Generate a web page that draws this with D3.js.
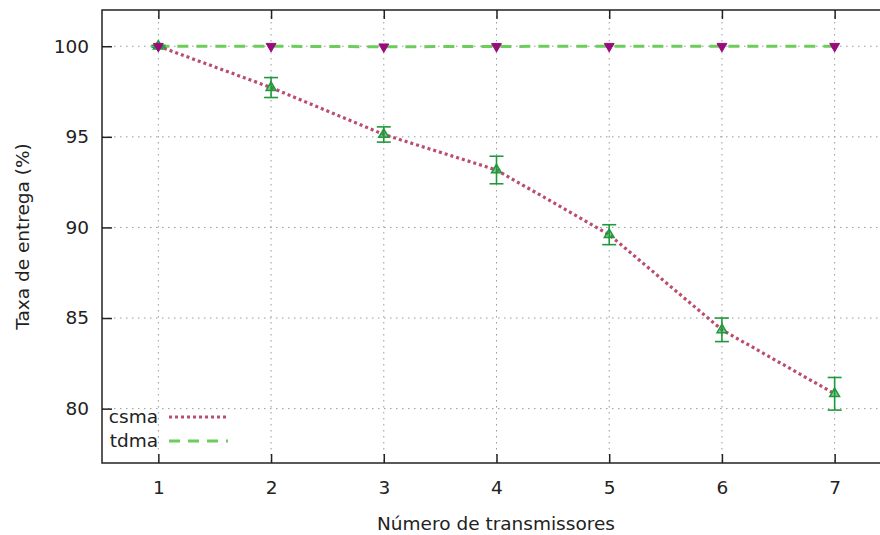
<!DOCTYPE html>
<html><head><meta charset="utf-8">
<script src="https://cdn.jsdelivr.net/npm/d3@7/dist/d3.min.js"></script>
<style>body{margin:0;background:#fff;overflow:hidden}svg{display:block}text{font-family:"DejaVu Sans",sans-serif;fill:#222}</style>
</head><body>
<script>
const xValues = [1, 2, 3, 4, 5, 6, 7];
const csma = [100, 97.72, 95.13, 93.17, 89.6, 84.35, 80.82];
const csmaErr = [0.05, 0.55, 0.42, 0.76, 0.55, 0.65, 0.9];
const tdma = [100, 100, 99.97, 99.99, 100, 100, 100];
const yTicks = [80, 85, 90, 95, 100];
const seriesNames = ["csma", "tdma"];
const xLabel = "Número de transmissores";
const yLabel = "Taxa de entrega (%)";

const W = 880, H = 535;
const L = 102, R = 891, T = 10, B = 463;
const svg = d3.select("body").append("svg").attr("width", W).attr("height", H);
const x = d3.scaleLinear().domain([0.5, 7.5]).range([L, R]);
const y = d3.scaleLinear().domain([77, 102]).range([B, T]);

// grid
const grid = svg.append("g").attr("stroke", "#9a9a9a").attr("stroke-width", 1).attr("stroke-dasharray", "1.5,4.5");
grid.selectAll("line.gx").data(xValues).join("line")
  .attr("x1", d => x(d)).attr("x2", d => x(d)).attr("y1", T).attr("y2", B);
grid.selectAll("line.gy").data(yTicks).join("line")
  .attr("x1", L).attr("x2", R).attr("y1", d => y(d)).attr("y2", d => y(d));

// axes
const fs = 18.5;
const xAxisB = d3.axisBottom(x).tickValues(xValues).tickSize(-9).tickPadding(18).tickFormat(d3.format("d"));
const gxb = svg.append("g").attr("transform", `translate(0,${B})`).call(xAxisB);
const xAxisT = d3.axisTop(x).tickValues(xValues).tickSize(-9).tickFormat("");
const gxt = svg.append("g").attr("transform", `translate(0,${T})`).call(xAxisT);
const yAxisL = d3.axisLeft(y).tickValues(yTicks).tickSize(-10).tickPadding(13);
const gyl = svg.append("g").attr("transform", `translate(${L},0)`).call(yAxisL);
[gxb, gxt, gyl].forEach(g => {
  g.select(".domain").remove();
  g.selectAll(".tick line").attr("stroke", "#222").attr("stroke-width", 1.5);
  g.selectAll(".tick text").attr("font-size", fs).attr("font-family", "DejaVu Sans").attr("fill", "#222");
});
svg.append("rect").attr("x", L).attr("y", T).attr("width", R - L).attr("height", B - T)
  .attr("fill", "none").attr("stroke", "#222").attr("stroke-width", 1.5);

// lines
const line = d3.line().x((d, i) => x(xValues[i])).y(d => y(d));
svg.append("path").datum(tdma).attr("d", line).attr("fill", "none")
  .attr("stroke", "#6ccc5c").attr("stroke-width", 3).attr("stroke-dasharray", "11,8");
svg.append("path").datum(csma).attr("d", line).attr("fill", "none")
  .attr("stroke", "#bb4d6c").attr("stroke-width", 3.2).attr("stroke-dasharray", "3,3");

// error bars
const green = "#1f9a3a";
const eb = svg.append("g").attr("stroke", green).attr("stroke-width", 1.6).attr("fill", "none");
csma.forEach((v, i) => {
  const cx = x(xValues[i]), y1 = y(v + csmaErr[i]), y2 = y(v - csmaErr[i]);
  eb.append("line").attr("x1", cx).attr("x2", cx).attr("y1", y1).attr("y2", y2);
  eb.append("line").attr("x1", cx - 7).attr("x2", cx + 7).attr("y1", y1).attr("y2", y1);
  eb.append("line").attr("x1", cx - 7).attr("x2", cx + 7).attr("y1", y2).attr("y2", y2);
});
const tri = d3.symbol().type(d3.symbolTriangle).size(42);
svg.append("g").selectAll("path").data(csma).join("path")
  .attr("d", tri).attr("transform", (d, i) => `translate(${x(xValues[i])},${y(d)})`)
  .attr("fill", green).attr("fill-opacity", 0.55).attr("stroke", green).attr("stroke-width", 1.5);
svg.append("g").selectAll("path").data(tdma).join("path")
  .attr("d", tri).attr("transform", (d, i) => `translate(${x(xValues[i])},${y(d)}) rotate(180)`)
  .attr("fill", "#9b0a7d").attr("stroke", "#9b0a7d").attr("stroke-width", 1);

// legend
const leg = [{n: seriesNames[0], c: "#bb4d6c", da: "3,3", w: 3.2, yy: 417},
             {n: seriesNames[1], c: "#6ccc5c", da: "11,8", w: 3, yy: 441}];
leg.forEach(l => {
  svg.append("text").attr("x", 158).attr("y", l.yy).attr("dy", "0.35em").attr("text-anchor", "end")
    .attr("font-size", fs).text(l.n);
  svg.append("line").attr("x1", 169).attr("x2", 228).attr("y1", l.yy).attr("y2", l.yy)
    .attr("stroke", l.c).attr("stroke-width", l.w).attr("stroke-dasharray", l.da);
});

// labels
svg.append("text").attr("x", 496).attr("y", 524).attr("dy", "0.35em").attr("text-anchor", "middle")
  .attr("font-size", fs).text(xLabel);
svg.append("text").attr("transform", `translate(23,${(T + B) / 2}) rotate(-90)`).attr("dy", "0.35em")
  .attr("text-anchor", "middle").attr("font-size", fs).text(yLabel);
</script>
</body></html>
